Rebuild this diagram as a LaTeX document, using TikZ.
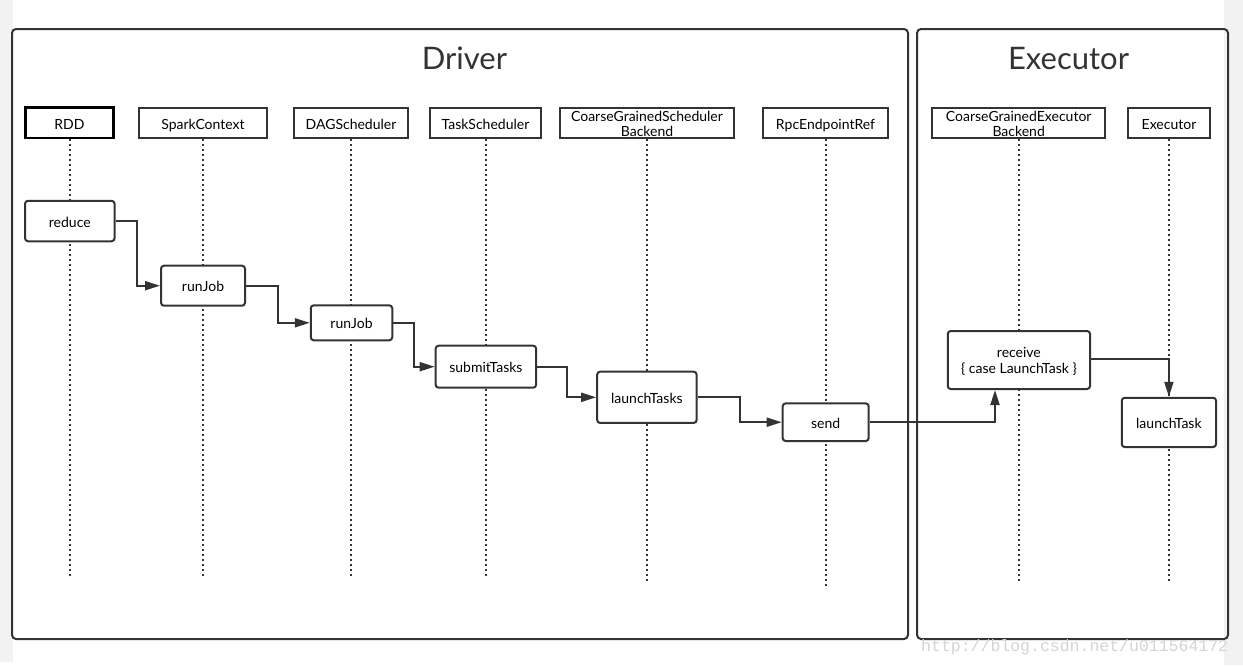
\documentclass[tikz,border=0pt]{standalone}
\usepackage{fontspec}
\setmainfont{Lato}
\newfontfamily\wmfont{Liberation Mono}
\usetikzlibrary{arrows.meta}
\definecolor{ink}{HTML}{333333}
\definecolor{side}{HTML}{F2F2F2}
\definecolor{wm}{HTML}{D4D4D4}
\tikzset{
  frame/.style={draw=ink, line width=2pt, rounded corners=4pt},
  hdrbox/.style={draw=ink, line width=2pt, rectangle, inner sep=0pt, text=black,
    font=\fontsize{14}{15}\selectfont, align=center},
  hdr/.style={hdrbox, text height=14pt, text depth=0pt},
  act/.style={draw=ink, line width=2pt, rounded corners=3pt, fill=white, inner sep=0pt,
    text=black, font=\fontsize{14}{16}\selectfont, text height=12pt, text depth=0pt},
  act2/.style={draw=ink, line width=2pt, rounded corners=3pt, fill=white, inner sep=0pt,
    text=black, font=\fontsize{14}{16}\selectfont, align=center},
  life/.style={draw=ink, line width=2pt, dash pattern=on 2pt off 3pt},
  conn/.style={draw=ink, line width=2pt, -{Triangle[length=15pt,width=9pt]}},
  ttl/.style={text=ink, font=\fontsize{31}{34}\selectfont, anchor=base, inner sep=0pt}
}
\begin{document}
\begin{tikzpicture}[x=1pt,y=-1pt]
\useasboundingbox (0,0) rectangle (1243,665);
\fill[white] (0,0) rectangle (1243,665);
\fill[side] (0,0) rectangle (13,662);
\fill[side] (1224,0) rectangle (1243,665);

% frames
\draw[frame] (12,29) rectangle (908,639);
\draw[frame] (917,29) rectangle (1228,639);
\node[ttl] (tdriver) at (464.5,69) {Driver};
\node[ttl] (texec) at (1068.5,69) {Executor};

% headers
\node[hdr, draw=black, line width=2.6pt, minimum width=88pt, minimum height=30.5pt] (rdd) at (69.5,122.8) {RDD};
\node[hdr, minimum width=128.5pt, minimum height=30.5pt] (sc) at (203,122.8) {SparkContext};
\node[hdr, minimum width=114.5pt, minimum height=30.5pt] (dag) at (351,122.8) {DAGScheduler};
\node[hdr, minimum width=111.5pt, minimum height=30.5pt] (ts) at (485.5,122.8) {TaskScheduler};
\node[hdrbox, minimum width=174.5pt, minimum height=30.5pt] (cgsb) at (647,122.8) {};
\node[hdrbox, draw=none, yshift=-1pt] (cgsbt) at (647,122.8) {CoarseGrainedScheduler\\Backend};
\node[hdr, minimum width=125.5pt, minimum height=30.5pt] (rpc) at (825.5,122.8) {RpcEndpointRef};
\node[hdrbox, minimum width=172.5pt, minimum height=30.5pt] (cgeb) at (1018.7,122.8) {};
\node[hdrbox, draw=none, yshift=-1pt] (cgebt) at (1018.7,122.8) {CoarseGrainedExecutor\\Backend};
\node[hdr, minimum width=82.5pt, minimum height=30.5pt] (ex) at (1169,122.8) {Executor};

% lifeline ends
\coordinate (erdd) at (69.5,579);
\coordinate (esc) at (203,579);
\coordinate (edag) at (351,579);
\coordinate (ets) at (485.5,579);
\coordinate (ecgsb) at (647,584);
\coordinate (erpc) at (825.5,589);
\coordinate (ecgeb) at (1018.7,584);
\coordinate (eex) at (1169,584);
\draw[life] (rdd.south) -- (erdd);
\draw[life] (sc.south) -- (esc);
\draw[life] (dag.south) -- (edag);
\draw[life] (ts.south) -- (ets);
\draw[life] (cgsb.south) -- (ecgsb);
\draw[life] (rpc.south) -- (erpc);
\draw[life] (cgeb.south) -- (ecgeb);
\draw[life] (ex.south) -- (eex);

% activations
\node[act, minimum width=89.5pt, minimum height=40.5pt] (reduce) at (69.8,221) {reduce};
\node[act, minimum width=84pt, minimum height=40pt] (runjob1) at (203,285.7) {runJob};
\node[act, minimum width=81.5pt, minimum height=35pt] (runjob2) at (351.5,322.8) {runJob};
\node[act, minimum width=100.5pt, minimum height=42pt] (submit) at (485.9,366.7) {submitTasks};
\node[act, minimum width=99.5pt, minimum height=51.3pt] (launchs) at (646.9,397.3) {launchTasks};
\node[act, minimum width=86pt, minimum height=37.7pt] (send) at (825.7,422.2) {send};
\node[act2, minimum width=142.3pt, minimum height=58pt] (receive) at (1018.9,360) {};
\node[act2, draw=none, fill=none, yshift=-1pt] (receivet) at (1018.9,360) {receive\\\{ case LaunchTask \}};
\node[act, minimum width=94.3pt, minimum height=49.3pt] (launch) at (1168.9,422.4) {launchTask};

% connectors
\draw[conn] (reduce.east) -| (136.7,285.7) -- (runjob1.west);
\draw[conn] (runjob1.east) -| (278,322.8) -- (runjob2.west);
\draw[conn] (runjob2.east) -| (414,366.7) -- (submit.west);
\draw[conn] (submit.east) -| (566.7,397.3) -- (launchs.west);
\draw[conn] (launchs.east) -| (740,422.2) -- (send.west);
\draw[conn] (send.east) -| (receive.south -| 995,0);
\draw[conn] (receive.east |- 0,359) -| (launch.north);

% watermark
\node[text=wm, font=\wmfont\fontsize{16.5}{18}\selectfont, anchor=base west, inner sep=0pt] (wmark) at (921,651) {http://blog.csdn.net/u011564172};
\end{tikzpicture}
\end{document}
